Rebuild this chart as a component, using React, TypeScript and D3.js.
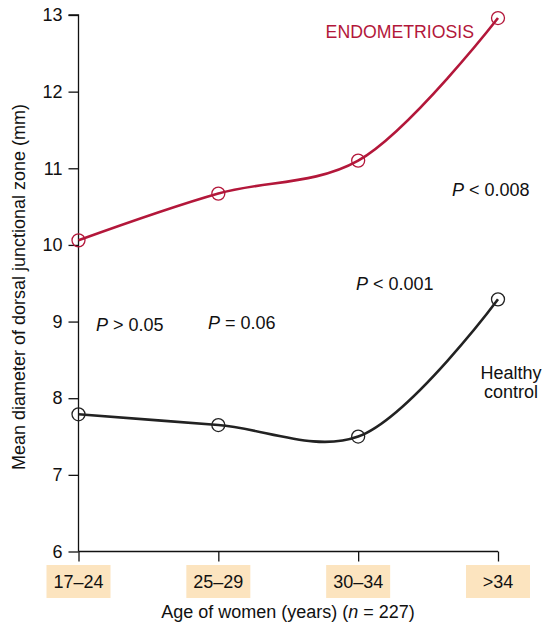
import React, { useEffect, useRef } from "react";
import * as d3 from "d3";

const ageGroups = ["17–24", "25–29", "30–34", ">34"];
const endometriosis = [10.06, 10.67, 11.1, 12.96];
const healthy = [7.79, 7.65, 7.5, 9.29];
const yTicks = [6, 7, 8, 9, 10, 11, 12, 13];

const RED = "#b3173a";
const BOX = "#fce4bf";
const FS = 18;

const App: React.FC = () => {
  const svgRef = useRef<SVGSVGElement | null>(null);

  useEffect(() => {
    if (!svgRef.current) return;
    const svg = d3.select(svgRef.current);
    svg.selectAll("*").remove();

    const x = d3.scalePoint<string>().domain(ageGroups).range([78.5, 498]);
    const y = d3.scaleLinear().domain([6, 13]).range([551.5, 15]);
    const font = "'Liberation Sans', Arial, Helvetica, sans-serif";

    const g = svg.append("g").attr("font-family", font);

    // y axis
    const yAxis = d3
      .axisLeft(y)
      .tickValues(yTicks)
      .tickSize(10)
      .tickPadding(6)
      .tickFormat(d3.format("d"));
    const ya = g.append("g").attr("transform", "translate(78.5,0)").call(yAxis);
    ya.select(".domain").attr("stroke", "#111").attr("stroke-width", 1.3).attr("d", `M-10,${y(13)}H0V${y(6)}`);
    ya.selectAll(".tick line").attr("stroke", "#111").attr("stroke-width", 1.3);
    ya.selectAll(".tick text").attr("font-size", FS).attr("fill", "#111").attr("font-family", font);

    // x axis
    const xAxis = d3.axisBottom(x).tickSize(10).tickFormat(() => "");
    const xa = g.append("g").attr("transform", `translate(0,${y(6)})`).call(xAxis);
    xa.select(".domain").attr("stroke", "#111").attr("stroke-width", 1.3).attr("d", `M${x(ageGroups[0])},0H${x(ageGroups[3])}`);
    xa.selectAll(".tick line").attr("stroke", "#111").attr("stroke-width", 1.3);

    // category boxes
    const cats = g.append("g");
    ageGroups.forEach((a) => {
      const cx = x(a) as number;
      cats.append("rect").attr("x", cx - 32).attr("y", 565).attr("width", 64).attr("height", 33).attr("fill", BOX);
      cats
        .append("text")
        .attr("x", cx)
        .attr("y", 588)
        .attr("text-anchor", "middle")
        .attr("font-size", FS)
        .attr("fill", "#111")
        .text(a);
    });

    // axis titles
    const xt = g
      .append("text")
      .attr("x", 288)
      .attr("y", 618)
      .attr("text-anchor", "middle")
      .attr("font-size", FS)
      .attr("fill", "#111");
    xt.append("tspan").text("Age of women (years) (");
    xt.append("tspan").attr("font-style", "italic").text("n");
    xt.append("tspan").text(" = 227)");

    g.append("text")
      .attr("transform", "translate(25,287) rotate(-90)")
      .attr("text-anchor", "middle")
      .attr("font-size", FS)
      .attr("fill", "#111")
      .text("Mean diameter of dorsal junctional zone (mm)");

    // lines
    const line = d3
      .line<number>()
      .x((_, i) => x(ageGroups[i]) as number)
      .y((d) => y(d))
      .curve(d3.curveCatmullRom.alpha(0.5));

    const series = [
      { values: endometriosis, color: RED },
      { values: healthy, color: "#222" },
    ];

    series.forEach((s) => {
      g.append("path")
        .datum(s.values)
        .attr("fill", "none")
        .attr("stroke", s.color)
        .attr("stroke-width", 2.6)
        .attr("d", line);
      g.selectAll(null)
        .data(s.values)
        .enter()
        .append("circle")
        .attr("cx", (_, i) => x(ageGroups[i]) as number)
        .attr("cy", (d) => y(d))
        .attr("r", 6.5)
        .attr("fill", "none")
        .attr("stroke", s.color)
        .attr("stroke-width", 1.3);
    });

    // annotations
    g.append("text")
      .attr("x", 474)
      .attr("y", 38)
      .attr("text-anchor", "end")
      .attr("font-size", 17.7)
      .attr("fill", RED)
      .text("ENDOMETRIOSIS");

    const pLabels = [
      { x: 452, y: 196, op: " < 0.008" },
      { x: 356, y: 290, op: " < 0.001" },
      { x: 96, y: 331, op: " > 0.05" },
      { x: 208, y: 329, op: " = 0.06" },
    ];
    pLabels.forEach((p) => {
      const t = g.append("text").attr("x", p.x).attr("y", p.y).attr("font-size", FS).attr("fill", "#111");
      t.append("tspan").attr("font-style", "italic").text("P");
      t.append("tspan").text(p.op);
    });

    const hc = g.append("text").attr("text-anchor", "middle").attr("font-size", FS).attr("fill", "#111");
    hc.append("tspan").attr("x", 511).attr("y", 379).text("Healthy");
    hc.append("tspan").attr("x", 511).attr("y", 398).text("control");
  }, []);

  return (
    <svg
      ref={svgRef}
      width={544}
      height={627}
      style={{ position: "absolute", left: 0, top: 0, background: "#fff" }}
    ></svg>
  );
};

export default App;
